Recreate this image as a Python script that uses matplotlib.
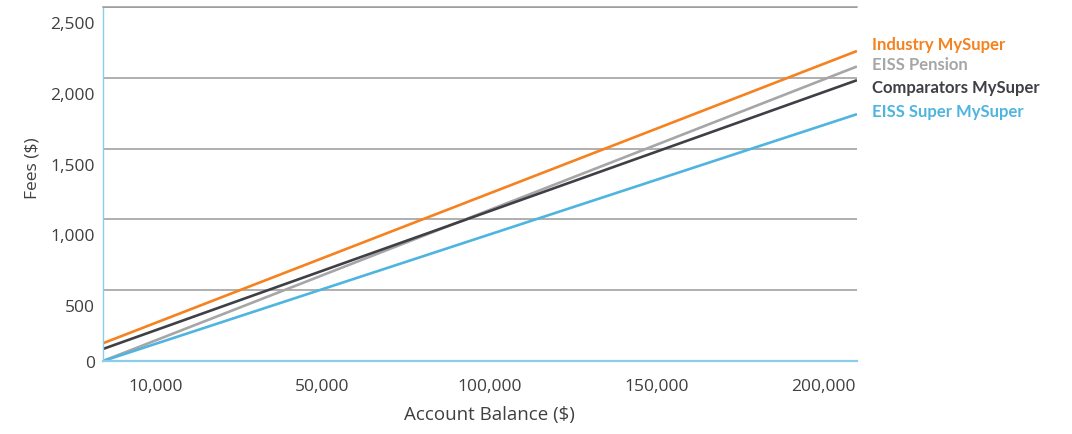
import numpy as np
import matplotlib
matplotlib.use("Agg")
import matplotlib.pyplot as plt
import matplotlib.transforms as mtransforms

# Fees by account balance for each product
balances = ["10,000", "50,000", "100,000", "150,000", "200,000"]
industry_mysuper = [269, 726, 1184, 1641, 2098]
eiss_pension = [145, 606, 1066, 1527, 1988]
comparators_mysuper = [217, 638, 1058, 1479, 1899]
eiss_super_mysuper = [121, 508, 894, 1280, 1666]

fee_ticks = [0, 500, 1000, 1500, 2000, 2500]

series = [
    ("Industry MySuper", industry_mysuper, "#F5821F", -5),
    ("EISS Pension", eiss_pension, "#A6A6A6", -1.5),
    ("Comparators MySuper", comparators_mysuper, "#3F3F46", 5),
    ("EISS Super MySuper", eiss_super_mysuper, "#4FB4DF", -2),
]

TEXT = "#404040"
GRID = "#9A9A9A"
AXIS_BLUE = "#8ECDE9"

plt.rcParams["font.family"] = ["Open Sans", "DejaVu Sans"]

fig = plt.figure(figsize=(10.72, 4.35), dpi=100)
ax = fig.add_axes([0.0961, 0.1678, 0.7033, 0.8138])

x = np.arange(len(balances))
for name, fees, color, dy in series:
    # straight fee lines run across the full width of the plot
    ax.axline((x[0], fees[0]), (x[-1], fees[-1]), color=color, lw=1.9,
              solid_capstyle="butt")

ax.set_xlim(-0.314, 4.20)
ax.set_ylim(0, 2500)

ax.set_xticks(x)
ax.set_xticklabels(balances)
ax.set_yticks(fee_ticks)
ax.set_yticklabels([f"{v:,}" for v in fee_ticks])
ax.tick_params(axis="both", length=0, labelsize=12.5, colors=TEXT)
ax.tick_params(axis="x", pad=12)
ax.tick_params(axis="y", pad=6)

# y labels sit a little below their gridlines
shift = mtransforms.ScaledTranslation(0, -15 / 100, fig.dpi_scale_trans)
for lbl, v in zip(ax.get_yticklabels(), fee_ticks):
    if v > 0:
        lbl.set_transform(lbl.get_transform() + shift)

ax.yaxis.grid(True, color=GRID, lw=1.1)
ax.set_axisbelow(True)

ax.spines["right"].set_visible(False)
ax.spines["top"].set_color(GRID)
ax.spines["top"].set_linewidth(1.1)
ax.spines["left"].set_color(AXIS_BLUE)
ax.spines["left"].set_linewidth(1.0)
ax.spines["bottom"].set_color(AXIS_BLUE)
ax.spines["bottom"].set_linewidth(1.6)
ax.spines["bottom"].set_zorder(5)

ax.set_xlabel("Account Balance ($)", fontsize=13.5, color=TEXT)
ax.set_ylabel("Fees ($)", fontsize=12.5, color=TEXT)
ax.xaxis.set_label_coords(0.513, -0.125)
ax.yaxis.set_label_coords(-0.094, 0.547)
ax.yaxis.label.set_va("center")

# series names next to the line ends
for name, fees, color, dy in series:
    end_val = fees[-1] + (fees[-1] - fees[0]) / (x[-1] - x[0]) * (4.20 - x[-1])
    ax.annotate(name, xy=(4.20, end_val), xytext=(11, -dy),
                textcoords="offset points", ha="left", va="center",
                fontsize=12, fontweight="bold", color=color,
                family=["Lato", "DejaVu Sans"], annotation_clip=False)

fig.savefig("out.png", dpi=100)
